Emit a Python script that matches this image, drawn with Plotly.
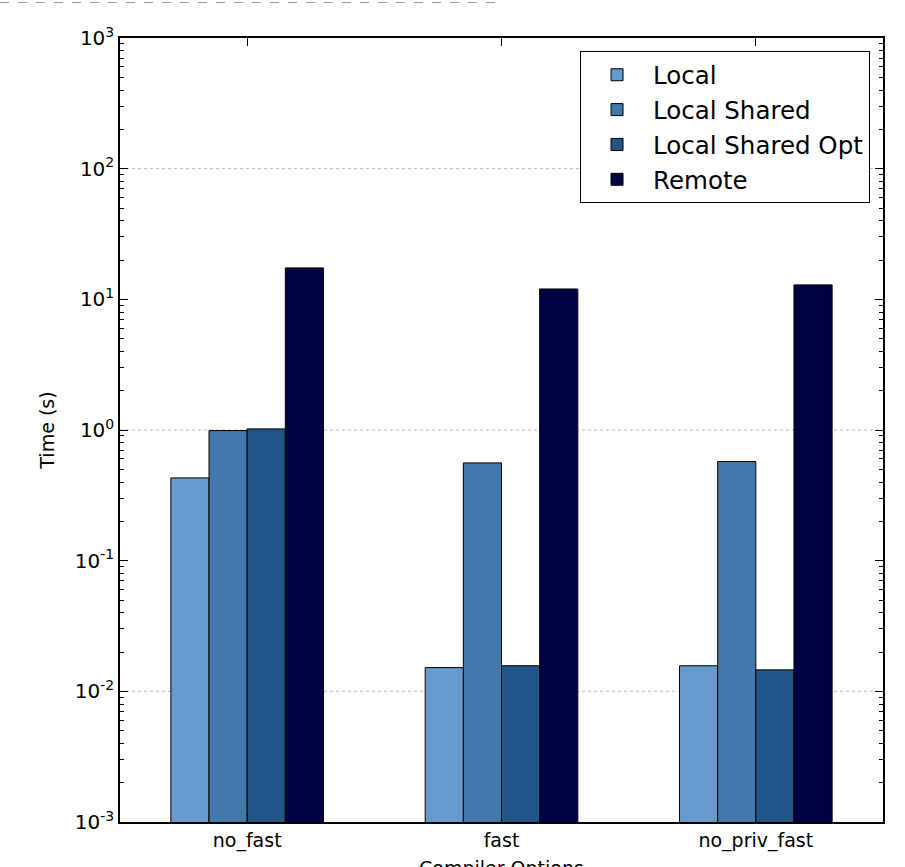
import plotly.graph_objects as go

categories = ["no_fast", "fast", "no_priv_fast"]
series_names = ["Local", "Local Shared", "Local Shared Opt", "Remote"]
local = [0.43, 0.0152, 0.0157]
local_shared = [0.99, 0.56, 0.574]
local_shared_opt = [1.02, 0.0157, 0.0146]
remote = [17.4, 12.0, 12.9]
colors = ["#6699CC", "#4477AA", "#225588", "#000044"]
ytick_vals = [1e-3, 1e-2, 1e-1, 1e0, 1e1, 1e2, 1e3]
ytick_text = ["10<sup>-3</sup>", "10<sup>-2</sup>", "10<sup>-1</sup>", "10<sup>0</sup>",
              "10<sup>1</sup>", "10<sup>2</sup>", "10<sup>3</sup>"]
grid_vals = [1e2, 1e0, 1e-2]

series_values = [local, local_shared, local_shared_opt, remote]

FONT = "DejaVu Sans"

fig = go.Figure()
for name, vals, col in zip(series_names, series_values, colors):
    fig.add_trace(go.Bar(
        x=categories, y=vals, name=name,
        marker=dict(color=col, line=dict(color="black", width=1)),
    ))

minor_vals = [m * 10 ** e for e in range(-3, 3) for m in range(2, 10)]

fig.update_layout(
    width=905, height=867,
    margin=dict(l=120, r=22, t=37.5, b=44.5),
    paper_bgcolor="white", plot_bgcolor="white",
    barmode="group", bargap=0.4, bargroupgap=0,
    font=dict(family=FONT, size=19, color="black"),
    legend=dict(
        x=0.983, y=0.983, xanchor="right", yanchor="top",
        bordercolor="black", borderwidth=1, bgcolor="white",
        font=dict(family=FONT, size=24.5, color="black"),
        itemwidth=62,
    ),
    xaxis=dict(
        type="category", range=[-0.5, 2.5],
        showline=True, linecolor="black", linewidth=1.5, mirror="ticks",
        ticks="inside", ticklen=8, tickcolor="black",
        showgrid=False,
        automargin=False,
        tickfont=dict(size=19),
    ),
    yaxis=dict(
        type="log", range=[-3, 3],
        tickmode="array", tickvals=ytick_vals, ticktext=ytick_text,
        showline=True, linecolor="black", linewidth=1.5, mirror="ticks",
        ticks="inside", ticklen=8, tickcolor="black",
        showgrid=False, zeroline=False,
        minor=dict(tickvals=minor_vals, ticks="inside", ticklen=4, tickcolor="black", showgrid=False),
        title=dict(text="Time (s)", font=dict(size=19)),
        automargin=False,
        tickfont=dict(size=20),
    ),
)

# x-axis title, partly below the visible page as in the original
fig.add_annotation(text="Compiler Options", xref="paper", yref="paper",
                   x=0.5, y=-(856 - 822.5) / 785, xanchor="center", yanchor="top",
                   showarrow=False, font=dict(family=FONT, size=19, color="black"))

for gy in grid_vals:
    fig.add_shape(type="line", xref="paper", yref="y", x0=0, x1=1, y0=gy, y1=gy,
                  line=dict(color="#bbbbbb", width=1, dash="dot"), layer="below")

# decorative dashed line at the very top of the image
fig.add_shape(type="line", xref="paper", yref="paper",
              x0=-120/763, x1=(500-120)/763, y0=1 + 35.5/785, y1=1 + 35.5/785,
              line=dict(color="#999999", width=1, dash="dash"))

fig.write_html("out.html", config={"displayModeBar": False},
               post_script="document.body.style.margin='0';")
